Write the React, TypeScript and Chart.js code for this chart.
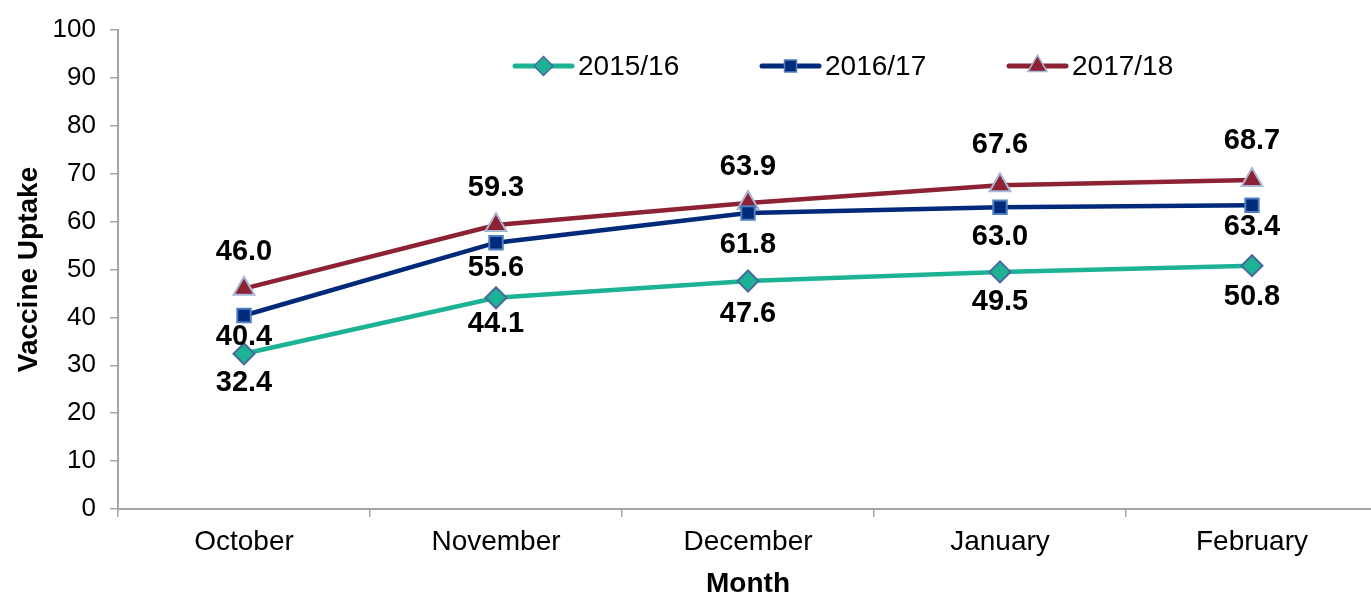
import React, { useEffect, useRef } from "react";
import { Chart, registerables } from "chart.js";
import { drawPoint } from "chart.js/helpers";

Chart.register(...registerables);

const months = ["October", "November", "December", "January", "February"];
const seriesNames = ["2015/16", "2016/17", "2017/18"];
const uptake1516 = [32.4, 44.1, 47.6, 49.5, 50.8];
const uptake1617 = [40.4, 55.6, 61.8, 63.0, 63.4];
const uptake1718 = [46.0, 59.3, 63.9, 67.6, 68.7];
const yMin = 0;
const yMax = 100;
const yStep = 10;

// label vertical offsets (px) relative to marker — styling only
const labelOffsets = [
  [29, 26, 33, 30, 31],
  [22, 25, 32, 30, 22],
  [-37, -37, -36, -40, -39],
];

const FONT = "'Liberation Sans', Arial, Helvetica, sans-serif";

const lineColors = ["#1bb394", "#00297a", "#8c2233"];
const markerFills = ["#1bb394", "#002a7a", "#8c2233"];
const markerBorders = ["#4a68a0", "#4f7fc0", "#a9b8d6"];
const markerStyles = ["rectRot", "rect", "triangle"];
const markerRadii = [10.5, 9.5, 12];

const legendX = [515, 762, 1009];
const legendY = 66;

const dataLabelPlugin = {
  id: "dataLabelPlugin",
  afterDatasetsDraw(chart: any) {
    const ctx = chart.ctx;
    ctx.save();
    ctx.font = `bold 29px ${FONT}`;
    ctx.fillStyle = "#000";
    ctx.textAlign = "center";
    ctx.textBaseline = "middle";
    chart.data.datasets.forEach((ds: any, i: number) => {
      const meta = chart.getDatasetMeta(i);
      meta.data.forEach((pt: any, j: number) => {
        const v = ds.data[j];
        ctx.fillText(v.toFixed(1), pt.x, pt.y + labelOffsets[i][j]);
      });
    });
    ctx.restore();
  },
};

const legendPlugin = {
  id: "customLegend",
  afterDraw(chart: any) {
    const ctx = chart.ctx;
    chart.data.datasets.forEach((ds: any, i: number) => {
      const x0 = legendX[i];
      const x1 = x0 + 57;
      ctx.save();
      ctx.strokeStyle = lineColors[i];
      ctx.lineWidth = 5;
      ctx.lineCap = "round";
      ctx.beginPath();
      ctx.moveTo(x0, legendY);
      ctx.lineTo(x1, legendY);
      ctx.stroke();
      ctx.fillStyle = markerFills[i];
      ctx.strokeStyle = markerBorders[i];
      ctx.lineWidth = 1.5;
      drawPoint(
        ctx,
        { pointStyle: markerStyles[i], radius: markerRadii[i] - 1, borderWidth: 1.5, rotation: 0 } as any,
        (x0 + x1) / 2,
        legendY
      );
      ctx.restore();
      ctx.save();
      ctx.font = `28px ${FONT}`;
      ctx.fillStyle = "#000";
      ctx.textAlign = "left";
      ctx.textBaseline = "middle";
      ctx.fillText(ds.label, x1 + 6, legendY + 1);
      ctx.restore();
    });
  },
};

export default function App() {
  const ref = useRef<HTMLCanvasElement>(null);

  useEffect(() => {
    if (!ref.current) return;
    const seriesData = [uptake1516, uptake1617, uptake1718];
    const chart = new Chart(ref.current, {
      type: "line",
      data: {
        labels: months,
        datasets: seriesData.map((d, i) => ({
          label: seriesNames[i],
          data: d,
          borderColor: lineColors[i],
          backgroundColor: markerFills[i],
          borderWidth: 4.5,
          pointStyle: markerStyles[i] as any,
          pointRadius: markerRadii[i],
          pointBackgroundColor: markerFills[i],
          pointBorderColor: markerBorders[i],
          pointBorderWidth: 2,
          tension: 0,
        })),
      },
      options: {
        responsive: false,
        animation: false,
        devicePixelRatio: 1,
        layout: { padding: { top: 30, right: 0, left: 0, bottom: 0 } },
        plugins: {
          legend: { display: false },
          tooltip: { enabled: false },
        },
        scales: {
          x: {
            offset: true,
            grid: {
              offset: true,
              drawOnChartArea: false,
              drawTicks: true,
              tickLength: 8,
              color: "#a6a6a6",
              lineWidth: 1.5,
            },
            border: { display: true, color: "#a6a6a6", width: 2 },
            ticks: {
              color: "#000",
              font: { family: FONT, size: 28 },
              padding: 8,
            },
            title: {
              display: true,
              text: "Month",
              color: "#000",
              font: { family: FONT, size: 28, weight: "bold", lineHeight: 0.8 },
              padding: { top: 0, bottom: 0 },
            },
            afterFit(scale: any) {
              scale.height = 86;
            },
          },
          y: {
            min: yMin,
            max: yMax,
            ticks: {
              stepSize: yStep,
              color: "#000",
              font: { family: FONT, size: 26 },
              padding: 14,
            },
            grid: {
              drawOnChartArea: false,
              drawTicks: true,
              tickLength: 8,
              color: "#a6a6a6",
              lineWidth: 1.5,
            },
            border: { display: true, color: "#a6a6a6", width: 2 },
            title: {
              display: true,
              text: "Vaccine Uptake",
              color: "#000",
              font: { family: FONT, size: 28, weight: "bold", lineHeight: 1 },
              padding: { top: 15, bottom: 0 },
            },
            afterFit(scale: any) {
              scale.width = 118;
            },
          },
        },
      },
      plugins: [dataLabelPlugin, legendPlugin],
    });
    return () => chart.destroy();
  }, []);

  return (
    <div
      style={{
        position: "fixed",
        left: 0,
        top: 0,
        width: 1371,
        height: 595,
        overflow: "hidden",
        background: "#fff",
      }}
    >
      <canvas ref={ref} width={1392} height={595} style={{ width: 1392, height: 595, display: "block" }} />
    </div>
  );
}
